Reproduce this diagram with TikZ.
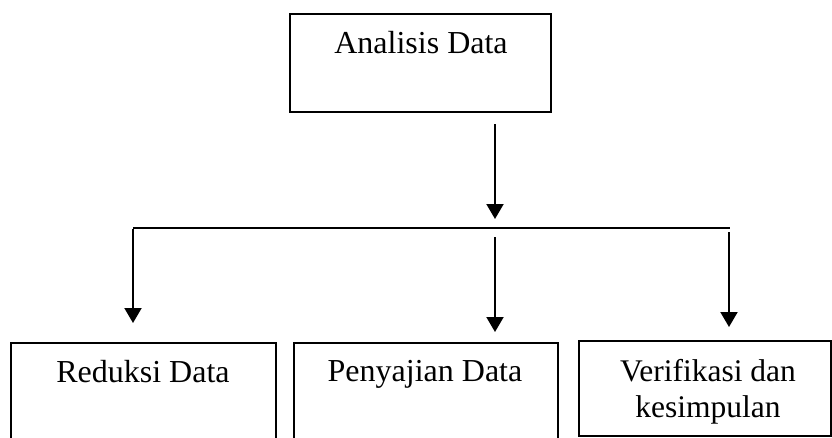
\documentclass[tikz,border=0pt]{standalone}
\usepackage{fontspec}
\setmainfont{Liberation Serif}
\usetikzlibrary{arrows.meta}
\begin{document}
\begin{tikzpicture}[x=1pt,y=-1pt,
  boxst/.style={draw=black, line width=1.6pt, inner sep=0pt},
  lbl/.style={anchor=base, inner sep=0pt, font=\fontsize{32}{38}\selectfont},
  lblsmall/.style={anchor=base, inner sep=0pt, font=\fontsize{31.5}{38}\selectfont},
  conn/.style={line width=2pt},
  arr/.style={line width=2pt, -{Triangle[width=17pt,length=15pt]}}]
\useasboundingbox (0,0) rectangle (832,437);
\clip (0,0) rectangle (832,437);
% boxes
\node[boxst, minimum width=261pt, minimum height=98pt, anchor=north west] (top) at (289,13) {};
\node[boxst, minimum width=265pt, minimum height=120pt, anchor=north west] (b1) at (10,342) {};
\node[boxst, minimum width=264pt, minimum height=120pt, anchor=north west] (b2) at (293,342) {};
\node[boxst, minimum width=252pt, minimum height=95pt, anchor=north west] (b3) at (578,340) {};
% labels
\node[lbl] (ttop) at (421,53) {Analisis Data};
\node[lbl] (t1) at (143,382) {Reduksi Data};
\node[lbl] (t2) at (425,381) {Penyajian Data};
\node[lblsmall] (t3a) at (708,381) {Verifikasi dan};
\node[lblsmall] (t3b) at (708,417) {kesimpulan};
% connector points
\coordinate (a0) at (495,124);
\coordinate (a1) at (495,219);
\coordinate (hl) at (133,228);
\coordinate (hr) at (730,228);
\coordinate (l1) at (133,323);
\coordinate (m0) at (495,237);
\coordinate (m1) at (495,332);
\coordinate (r0) at (729,232);
\coordinate (r1) at (729,327);
% connectors
\draw[arr] (a0) -- (a1);
\draw[conn] (hl) -- (hr);
\draw[arr] ([yshift=-1pt]hl) -- (l1);
\draw[arr] (m0) -- (m1);
\draw[arr] (r0) -- (r1);
\end{tikzpicture}
\end{document}
